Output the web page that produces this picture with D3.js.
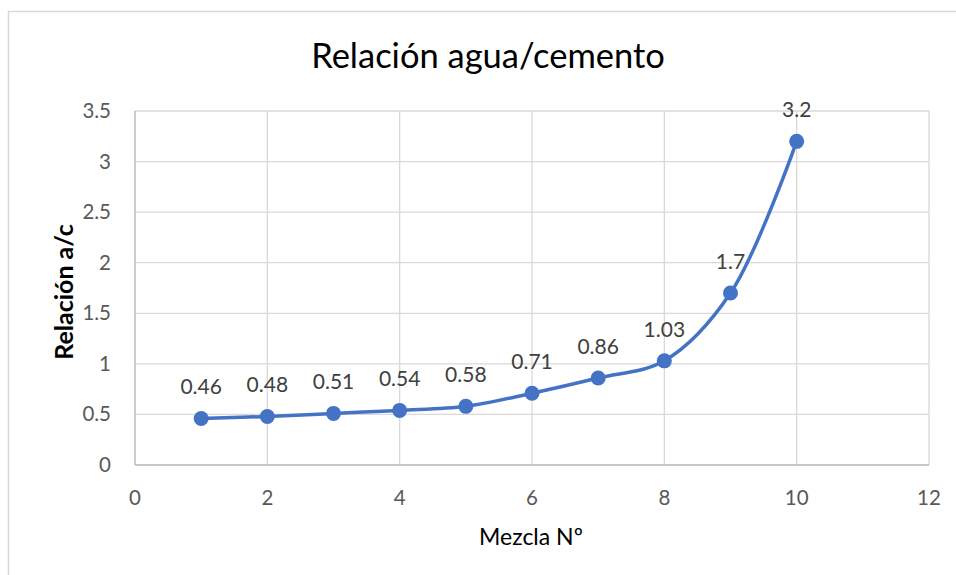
<!DOCTYPE html>
<html><head><meta charset="utf-8">
<script src="https://cdn.jsdelivr.net/npm/d3@7"></script>
<style>body{margin:0;background:#fff;} svg{display:block;}</style>
</head><body>
<script>
const mezcla = [1,2,3,4,5,6,7,8,9,10];
const relacion = [0.46,0.48,0.51,0.54,0.58,0.71,0.86,1.03,1.7,3.2];
const xTicks = [0,2,4,6,8,10,12];
const yTicks = [0,0.5,1,1.5,2,2.5,3,3.5];
const title = "Relación agua/cemento";
const xTitle = "Mezcla Nº";
const yTitle = "Relación a/c";

const W = 956, H = 575;
const font = "Lato, sans-serif";
const svg = d3.select("body").append("svg").attr("width", W).attr("height", H);
svg.append("rect").attr("x",8.5).attr("y",11.5).attr("width",W+10).attr("height",H+10)
  .attr("fill","#fff").attr("stroke","#d9d9d9").attr("stroke-width",1.5);

const x = d3.scaleLinear().domain([0,12]).range([135,929]);
const y = d3.scaleLinear().domain([0,3.5]).range([465,111]);

const g = svg.append("g");
g.selectAll(".vg").data(xTicks).join("line")
  .attr("x1",d=>x(d)).attr("x2",d=>x(d)).attr("y1",y(0)).attr("y2",y(3.5))
  .attr("stroke","#d9d9d9").attr("stroke-width",1.3);
g.selectAll(".hg").data(yTicks).join("line")
  .attr("x1",x(0)).attr("x2",x(12)).attr("y1",d=>y(d)).attr("y2",d=>y(d))
  .attr("stroke","#d9d9d9").attr("stroke-width",1.3);
g.append("line").attr("x1",x(0)).attr("x2",x(0)).attr("y1",y(0)).attr("y2",y(3.5)).attr("stroke","#bfbfbf").attr("stroke-width",1.3);
g.append("line").attr("x1",x(0)).attr("x2",x(12)).attr("y1",y(0)).attr("y2",y(0)).attr("stroke","#bfbfbf").attr("stroke-width",1.3);

g.selectAll(".xt").data(xTicks).join("text")
  .attr("x",d=>x(d)).attr("y",y(0)+40).attr("text-anchor","middle")
  .attr("font-family",font).attr("font-size",20.5).attr("fill","#595959").text(d=>d);
g.selectAll(".yt").data(yTicks).join("text")
  .attr("x",x(0)-24).attr("y",d=>y(d)+7).attr("text-anchor","end")
  .attr("font-family",font).attr("font-size",20.5).attr("fill","#595959").text(d=>d);

const pts = mezcla.map((m,i)=>[m,relacion[i]]);
const line = d3.line().x(d=>x(d[0])).y(d=>y(d[1])).curve(d3.curveCatmullRom.alpha(0.5));
g.append("path").datum(pts).attr("d",line).attr("fill","none")
  .attr("stroke","#4472c4").attr("stroke-width",3.5).attr("stroke-linecap","round");
g.selectAll(".pt").data(pts).join("circle")
  .attr("cx",d=>x(d[0])).attr("cy",d=>y(d[1])).attr("r",7.5).attr("fill","#4472c4");
g.selectAll(".dl").data(pts).join("text")
  .attr("x",d=>x(d[0])).attr("y",d=>y(d[1])-24).attr("text-anchor","middle")
  .attr("font-family",font).attr("font-size",21).attr("fill","#404040").text(d=>d[1]);

svg.append("text").attr("x",488).attr("y",68).attr("text-anchor","middle")
  .attr("font-family",font).attr("font-size",34.5).attr("fill","#000").text(title);
svg.append("text").attr("x",531).attr("y",545).attr("text-anchor","middle")
  .attr("font-family",font).attr("font-size",23).attr("fill","#000").text(xTitle);
svg.append("text").attr("transform","translate(73,292) rotate(-90)").attr("text-anchor","middle")
  .attr("font-family",font).attr("font-size",25).attr("font-weight","bold").attr("fill","#000").text(yTitle);
</script>
</body></html>
